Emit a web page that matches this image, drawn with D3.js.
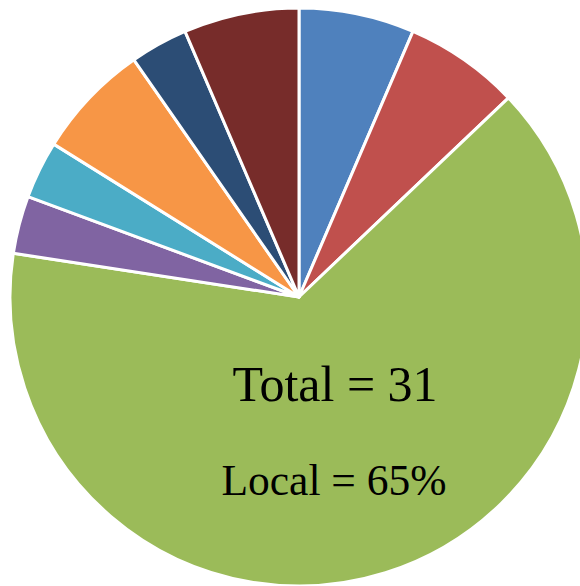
<!DOCTYPE html>
<html>
<head>
<meta charset="utf-8">
<script src="https://cdn.jsdelivr.net/npm/d3@7"></script>
<style>
html,body{margin:0;padding:0;background:#fff;overflow:hidden;}
svg{display:block;}
</style>
</head>
<body>
<svg id="chart" width="580" height="586"></svg>
<script>
const categories = ["A","B","Local","C","D","E","F","G"];
const values = [2, 2, 20, 1, 1, 2, 1, 2];
const colors = ["#4F81BD","#C0504D","#9BBB59","#8064A2","#4BACC6","#F79646","#2C4D75","#772C2A"];
const labels = ["Total = 31", "Local = 65%"];

const svg = d3.select("#chart");
const cx = 299, cy = 297, r = 289;
const g = svg.append("g").attr("transform", `translate(${cx},${cy})`);
const pie = d3.pie().value(d => d).sort(null);
const arc = d3.arc().innerRadius(0).outerRadius(r);
g.selectAll("path").data(pie(values)).join("path")
  .attr("d", arc)
  .attr("fill", (d,i) => colors[i])
  .attr("stroke", "#fff")
  .attr("stroke-width", 3)
  .attr("stroke-linejoin", "round");

svg.append("text").attr("x", 335).attr("y", 401)
  .attr("text-anchor","middle")
  .attr("font-family","'Liberation Serif', 'DejaVu Serif', serif")
  .attr("font-size", 50).attr("fill","#000").text(labels[0]);
svg.append("text").attr("x", 334).attr("y", 495)
  .attr("text-anchor","middle")
  .attr("font-family","'Liberation Serif', 'DejaVu Serif', serif")
  .attr("font-size", 43.5).attr("fill","#000").text(labels[1]);
</script>
</body>
</html>
